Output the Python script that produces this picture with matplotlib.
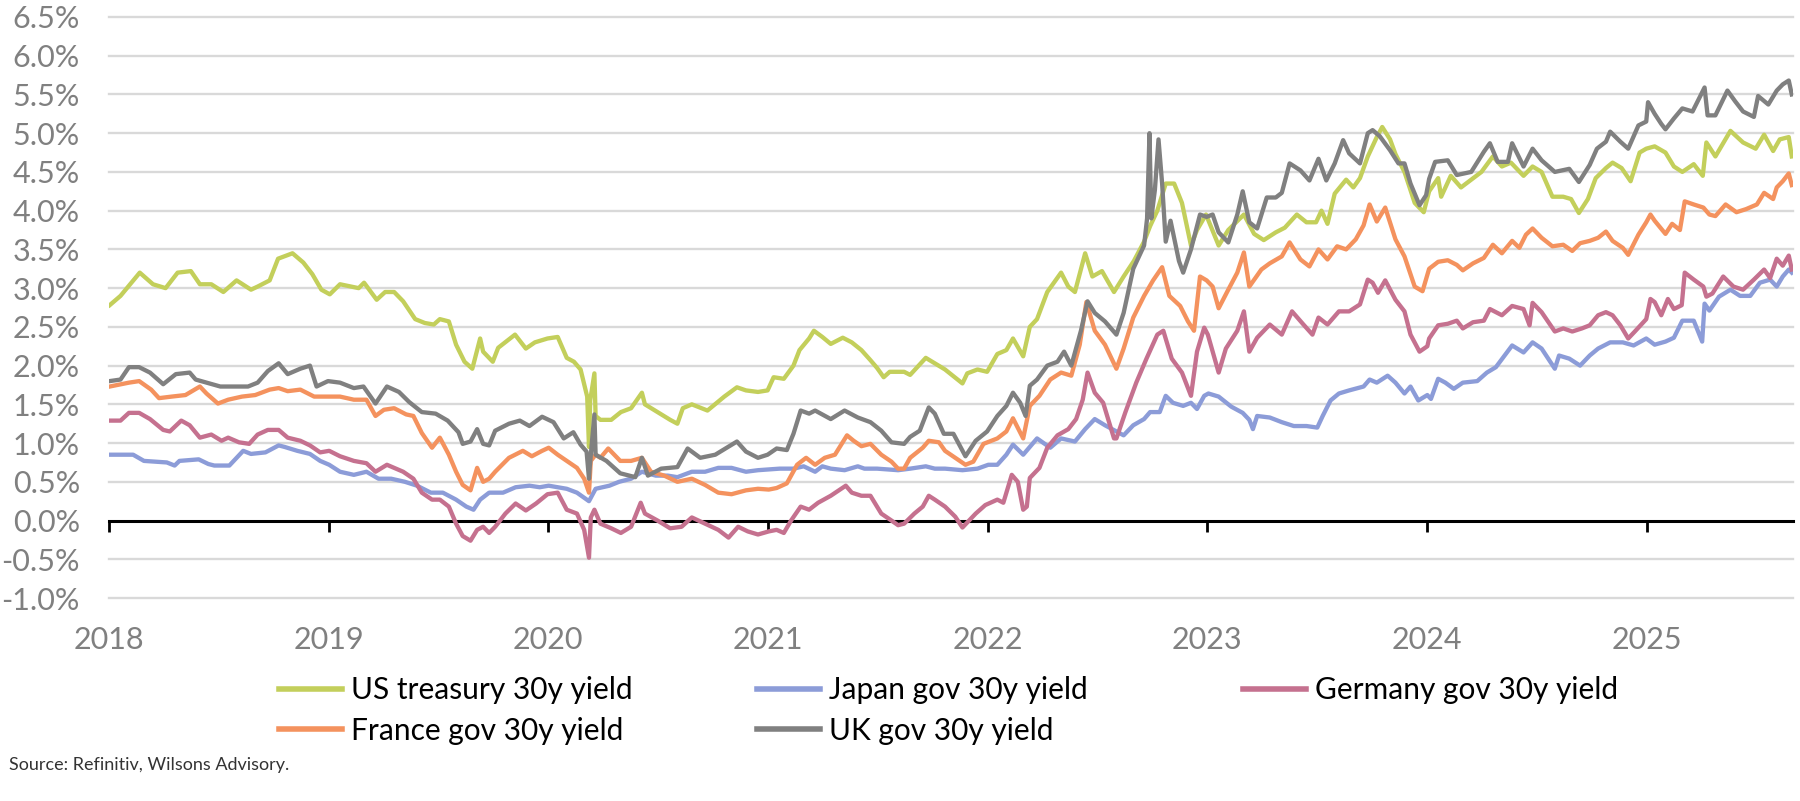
import matplotlib
matplotlib.use("Agg")
import matplotlib.pyplot as plt
import matplotlib.dates as mdates
from matplotlib.lines import Line2D
from matplotlib.ticker import FuncFormatter
import numpy as np
import pandas as pd

plt.rcParams['font.family'] = ['Lato', 'DejaVu Sans']

# ---------------- data ----------------
us_dates = ["2018-01-02","2018-01-20","2018-02-05","2018-02-21","2018-03-15","2018-04-05","2018-04-25","2018-05-17",
            "2018-06-01","2018-06-20","2018-07-10","2018-08-01","2018-08-25","2018-09-05","2018-09-25","2018-10-09",
            "2018-11-02","2018-11-20","2018-12-05","2018-12-20","2019-01-03","2019-01-20","2019-02-20","2019-03-01",
            "2019-03-22","2019-04-05","2019-04-20","2019-05-05","2019-05-25","2019-06-10","2019-06-25","2019-07-05",
            "2019-07-20","2019-08-01","2019-08-15","2019-08-28","2019-09-10","2019-09-15","2019-10-01","2019-10-10",
            "2019-11-07","2019-11-25","2019-12-10","2019-12-31","2020-01-17","2020-02-01","2020-02-13","2020-02-24",
            "2020-03-06","2020-03-09","2020-03-11","2020-03-18","2020-03-20","2020-03-28","2020-04-15","2020-05-01",
            "2020-05-18","2020-06-05","2020-06-10","2020-07-01","2020-07-22","2020-08-03","2020-08-12","2020-08-27",
            "2020-09-22","2020-10-20","2020-11-10","2020-11-25","2020-12-15","2020-12-31","2021-01-10","2021-01-27",
            "2021-02-12","2021-02-22","2021-03-10","2021-03-18","2021-04-01","2021-04-15","2021-05-05","2021-05-20",
            "2021-06-05","2021-06-20","2021-07-01","2021-07-12","2021-07-22","2021-08-15","2021-08-25","2021-09-20",
            "2021-10-05","2021-10-22","2021-11-20","2021-11-28","2021-12-15","2021-12-31","2022-01-17","2022-02-01",
            "2022-02-12","2022-03-01","2022-03-12","2022-03-24","2022-04-10","2022-05-03","2022-05-15","2022-05-26",
            "2022-06-12","2022-06-24","2022-07-10","2022-07-30","2022-08-15","2022-09-01","2022-09-18","2022-09-28",
            "2022-10-10","2022-10-24","2022-11-07","2022-11-20","2022-12-05","2022-12-15","2022-12-30","2023-01-20",
            "2023-02-05","2023-03-03","2023-03-20","2023-04-05","2023-04-25","2023-05-10","2023-05-30","2023-06-15",
            "2023-07-01","2023-07-10","2023-07-20","2023-08-01","2023-08-20","2023-09-01","2023-09-12","2023-09-25",
            "2023-10-10","2023-10-19","2023-11-01","2023-11-10","2023-11-25","2023-12-12","2023-12-27","2024-01-05",
            "2024-01-20","2024-01-25","2024-02-10","2024-02-27","2024-03-15","2024-04-01","2024-04-20","2024-05-05",
            "2024-05-20","2024-06-10","2024-06-25","2024-07-10","2024-07-28","2024-08-15","2024-08-28","2024-09-10",
            "2024-09-25","2024-10-08","2024-10-25","2024-11-05","2024-11-20","2024-12-05","2024-12-20","2024-12-31",
            "2025-01-14","2025-02-01","2025-02-15","2025-03-01","2025-03-20","2025-04-04","2025-04-10","2025-04-25",
            "2025-05-20","2025-06-10","2025-07-01","2025-07-15","2025-07-30","2025-08-10","2025-08-25","2025-08-30"]
us_vals = [2.78,2.90,3.05,3.20,3.05,3.00,3.20,3.22,
           3.05,3.05,2.95,3.10,2.98,3.02,3.10,3.38,
           3.45,3.33,3.18,2.98,2.92,3.05,3.00,3.07,
           2.85,2.95,2.95,2.83,2.60,2.55,2.53,2.60,
           2.57,2.27,2.05,1.96,2.35,2.18,2.05,2.23,
           2.40,2.22,2.30,2.35,2.37,2.10,2.05,1.95,
           1.60,0.95,1.55,1.90,1.35,1.30,1.30,1.40,
           1.45,1.65,1.50,1.40,1.30,1.25,1.45,1.50,
           1.42,1.60,1.72,1.68,1.66,1.68,1.85,1.83,
           2.00,2.20,2.35,2.45,2.37,2.28,2.36,2.30,
           2.20,2.07,1.97,1.85,1.92,1.92,1.88,2.10,
           2.03,1.95,1.77,1.90,1.95,1.92,2.15,2.20,
           2.35,2.12,2.50,2.60,2.95,3.20,3.02,2.95,
           3.45,3.15,3.22,2.95,3.15,3.35,3.60,3.80,
           4.00,4.35,4.35,4.10,3.55,3.75,3.95,3.55,
           3.75,3.95,3.70,3.62,3.72,3.78,3.95,3.85,
           3.85,4.00,3.83,4.22,4.40,4.30,4.42,4.70,
           4.95,5.08,4.92,4.73,4.50,4.10,3.98,4.25,
           4.42,4.18,4.45,4.30,4.40,4.50,4.70,4.57,
           4.62,4.45,4.57,4.50,4.18,4.18,4.15,3.97,
           4.15,4.42,4.55,4.62,4.55,4.38,4.75,4.80,
           4.83,4.75,4.57,4.50,4.60,4.45,4.88,4.70,
           5.03,4.88,4.80,4.98,4.77,4.92,4.95,4.70]

jp_dates = ["2018-01-03","2018-02-10","2018-02-28","2018-04-07","2018-04-20","2018-04-28","2018-05-30","2018-06-15",
            "2018-06-25","2018-07-20","2018-08-01","2018-08-12","2018-08-25","2018-09-18","2018-10-10","2018-10-20",
            "2018-11-10","2018-12-01","2018-12-18","2019-01-02","2019-01-20","2019-02-12","2019-03-05","2019-03-25",
            "2019-04-15","2019-05-08","2019-05-28","2019-06-20","2019-07-10","2019-08-01","2019-08-18","2019-08-30",
            "2019-09-10","2019-09-25","2019-10-18","2019-11-08","2019-12-01","2019-12-18","2020-01-02","2020-01-17",
            "2020-02-01","2020-02-18","2020-03-09","2020-03-20","2020-04-12","2020-04-28","2020-05-18","2020-06-05",
            "2020-06-28","2020-07-18","2020-08-03","2020-08-27","2020-09-18","2020-10-10","2020-11-01","2020-11-25",
            "2020-12-15","2021-01-02","2021-01-20","2021-02-12","2021-03-01","2021-03-20","2021-04-01","2021-04-15",
            "2021-05-08","2021-05-30","2021-06-10","2021-07-01","2021-08-05","2021-08-25","2021-09-20","2021-10-05",
            "2021-10-22","2021-11-20","2021-12-15","2022-01-02","2022-01-17","2022-02-01","2022-02-12","2022-03-01",
            "2022-03-24","2022-04-15","2022-05-03","2022-05-26","2022-06-12","2022-06-28","2022-07-15","2022-08-03",
            "2022-08-15","2022-08-31","2022-09-18","2022-09-28","2022-10-14","2022-10-24","2022-11-05","2022-11-22",
            "2022-12-05","2022-12-15","2022-12-27","2023-01-03","2023-01-20","2023-02-10","2023-03-01","2023-03-12",
            "2023-03-18","2023-03-25","2023-04-15","2023-05-05","2023-05-25","2023-06-15","2023-07-03","2023-07-12",
            "2023-07-25","2023-08-08","2023-08-25","2023-09-18","2023-09-28","2023-10-10","2023-10-28","2023-11-10",
            "2023-11-25","2023-12-05","2023-12-18","2024-01-02","2024-01-08","2024-01-20","2024-02-01","2024-02-15",
            "2024-03-01","2024-03-25","2024-04-10","2024-04-25","2024-05-22","2024-06-10","2024-06-25","2024-07-10",
            "2024-08-01","2024-08-08","2024-08-25","2024-09-12","2024-09-28","2024-10-12","2024-11-01","2024-11-22",
            "2024-12-10","2024-12-31","2025-01-14","2025-02-01","2025-02-15","2025-03-01","2025-03-20","2025-04-03",
            "2025-04-07","2025-04-15","2025-05-01","2025-05-20","2025-06-05","2025-06-22","2025-07-08","2025-07-25",
            "2025-08-05","2025-08-15","2025-08-25","2025-08-30"]
jp_vals = [0.85,0.85,0.77,0.75,0.71,0.77,0.79,0.73,
           0.71,0.71,0.81,0.90,0.86,0.88,0.97,0.95,
           0.90,0.86,0.77,0.72,0.63,0.59,0.63,0.54,
           0.54,0.50,0.45,0.36,0.36,0.27,0.18,0.14,
           0.27,0.36,0.36,0.43,0.45,0.43,0.45,0.43,
           0.41,0.36,0.25,0.41,0.45,0.50,0.54,0.63,
           0.58,0.58,0.56,0.63,0.63,0.68,0.68,0.63,
           0.65,0.66,0.67,0.67,0.70,0.63,0.70,0.67,
           0.65,0.70,0.67,0.67,0.65,0.67,0.70,0.67,
           0.67,0.65,0.67,0.72,0.72,0.85,0.98,0.85,
           1.06,0.94,1.06,1.02,1.18,1.31,1.23,1.15,
           1.10,1.23,1.31,1.40,1.40,1.61,1.52,1.48,
           1.52,1.44,1.61,1.64,1.60,1.47,1.39,1.30,
           1.18,1.35,1.33,1.27,1.22,1.22,1.20,1.35,
           1.55,1.64,1.68,1.73,1.82,1.78,1.87,1.78,
           1.64,1.73,1.55,1.62,1.57,1.83,1.78,1.70,
           1.78,1.80,1.91,1.98,2.26,2.17,2.30,2.22,
           1.96,2.13,2.09,2.00,2.13,2.22,2.30,2.30,
           2.26,2.35,2.27,2.31,2.36,2.58,2.58,2.31,
           2.80,2.71,2.89,2.98,2.90,2.90,3.07,3.11,
           3.02,3.15,3.24,3.20]

de_dates = ["2018-01-02","2018-01-20","2018-02-03","2018-02-20","2018-03-10","2018-04-01","2018-04-12","2018-05-01",
            "2018-05-15","2018-06-01","2018-06-20","2018-07-07","2018-07-18","2018-08-05","2018-08-22","2018-09-05",
            "2018-09-22","2018-10-10","2018-10-25","2018-11-15","2018-12-01","2018-12-18","2019-01-02","2019-01-20",
            "2019-02-12","2019-03-05","2019-03-20","2019-04-08","2019-04-20","2019-05-05","2019-05-22","2019-06-05",
            "2019-06-22","2019-07-05","2019-07-20","2019-08-01","2019-08-12","2019-08-25","2019-09-05","2019-09-15",
            "2019-09-25","2019-10-05","2019-10-22","2019-11-08","2019-11-25","2019-12-12","2019-12-31","2020-01-17",
            "2020-02-01","2020-02-18","2020-03-01","2020-03-09","2020-03-12","2020-03-18","2020-03-28","2020-04-15",
            "2020-05-01","2020-05-18","2020-06-03","2020-06-10","2020-07-01","2020-07-22","2020-08-10","2020-08-27",
            "2020-09-18","2020-10-10","2020-10-27","2020-11-12","2020-11-28","2020-12-15","2021-01-02","2021-01-15",
            "2021-01-27","2021-02-08","2021-02-24","2021-03-10","2021-03-25","2021-04-15","2021-05-10","2021-05-20",
            "2021-06-05","2021-06-20","2021-07-08","2021-07-25","2021-08-05","2021-08-15","2021-09-01","2021-09-15",
            "2021-09-25","2021-10-05","2021-10-22","2021-11-08","2021-11-20","2021-12-01","2021-12-12","2021-12-28",
            "2022-01-17","2022-01-27","2022-02-10","2022-02-20","2022-03-01","2022-03-07","2022-03-12","2022-03-28",
            "2022-04-10","2022-04-27","2022-05-15","2022-05-28","2022-06-08","2022-06-16","2022-06-28","2022-07-12",
            "2022-07-30","2022-08-03","2022-08-18","2022-09-05","2022-09-22","2022-10-10","2022-10-20","2022-11-03",
            "2022-11-20","2022-12-05","2022-12-15","2022-12-27","2023-01-02","2023-01-10","2023-01-20","2023-02-01",
            "2023-02-20","2023-03-03","2023-03-12","2023-03-25","2023-04-15","2023-05-05","2023-05-22","2023-06-10",
            "2023-06-25","2023-07-05","2023-07-20","2023-08-08","2023-08-25","2023-09-12","2023-09-25","2023-10-03",
            "2023-10-12","2023-10-24","2023-11-10","2023-11-25","2023-12-05","2023-12-20","2024-01-02","2024-01-05",
            "2024-01-20","2024-02-05","2024-02-20","2024-03-01","2024-03-18","2024-04-05","2024-04-15","2024-05-05",
            "2024-05-22","2024-06-10","2024-06-20","2024-06-25","2024-07-10","2024-08-01","2024-08-15","2024-08-30",
            "2024-09-15","2024-09-28","2024-10-12","2024-10-25","2024-11-05","2024-11-18","2024-12-01","2024-12-12",
            "2024-12-31","2025-01-07","2025-01-14","2025-01-25","2025-02-05","2025-02-15","2025-02-28","2025-03-05",
            "2025-03-20","2025-04-05","2025-04-10","2025-04-20","2025-05-08","2025-05-25","2025-06-10","2025-06-28",
            "2025-07-15","2025-07-25","2025-08-05","2025-08-15","2025-08-25","2025-08-30"]
de_vals = [1.29,1.29,1.39,1.39,1.31,1.17,1.15,1.29,
           1.23,1.07,1.11,1.03,1.07,1.01,0.99,1.11,
           1.17,1.17,1.07,1.03,0.97,0.88,0.90,0.83,
           0.77,0.74,0.63,0.72,0.68,0.63,0.54,0.36,
           0.27,0.27,0.18,-0.04,-0.20,-0.26,-0.12,-0.08,
           -0.16,-0.08,0.09,0.22,0.13,0.22,0.34,0.36,
           0.14,0.09,-0.12,-0.48,0.04,0.14,-0.04,-0.10,
           -0.16,-0.08,0.23,0.09,0.00,-0.10,-0.08,0.04,
           -0.04,-0.12,-0.22,-0.08,-0.14,-0.18,-0.14,-0.12,
           -0.16,0.00,0.18,0.14,0.23,0.32,0.45,0.36,
           0.32,0.32,0.09,0.00,-0.06,-0.04,0.09,0.18,
           0.32,0.27,0.18,0.05,-0.09,0.00,0.09,0.20,
           0.27,0.23,0.59,0.50,0.14,0.18,0.55,0.68,
           0.94,1.10,1.18,1.31,1.56,1.91,1.65,1.52,
           1.06,1.06,1.40,1.78,2.09,2.40,2.45,2.09,
           1.91,1.61,2.18,2.49,2.40,2.18,1.91,2.22,
           2.45,2.70,2.18,2.36,2.53,2.40,2.70,2.53,
           2.40,2.62,2.53,2.70,2.70,2.79,3.11,3.07,
           2.94,3.10,2.85,2.70,2.40,2.18,2.25,2.35,
           2.52,2.54,2.58,2.48,2.56,2.58,2.73,2.65,
           2.77,2.73,2.52,2.81,2.69,2.44,2.48,2.44,
           2.48,2.52,2.65,2.69,2.65,2.52,2.35,2.44,
           2.60,2.86,2.82,2.65,2.86,2.73,2.78,3.20,
           3.11,3.02,2.89,2.93,3.15,3.02,2.98,3.11,
           3.24,3.13,3.38,3.29,3.42,3.24]

fr_dates = ["2018-01-02","2018-02-03","2018-02-20","2018-03-12","2018-03-25","2018-04-15","2018-05-08","2018-06-01",
            "2018-06-12","2018-07-01","2018-07-18","2018-08-10","2018-09-01","2018-09-25","2018-10-10","2018-10-25",
            "2018-11-15","2018-12-08","2018-12-31","2019-01-20","2019-02-12","2019-03-05","2019-03-20","2019-04-03",
            "2019-04-20","2019-05-10","2019-05-22","2019-06-05","2019-06-22","2019-07-05","2019-07-20","2019-08-01",
            "2019-08-12","2019-08-25","2019-09-05","2019-09-15","2019-09-25","2019-10-05","2019-10-28","2019-11-20",
            "2019-12-05","2019-12-22","2020-01-02","2020-01-17","2020-02-01","2020-02-18","2020-03-01","2020-03-09",
            "2020-03-12","2020-03-20","2020-03-28","2020-04-10","2020-04-30","2020-05-18","2020-06-05","2020-06-20",
            "2020-07-12","2020-08-03","2020-08-27","2020-09-18","2020-10-10","2020-11-01","2020-11-25","2020-12-15",
            "2021-01-02","2021-01-15","2021-02-01","2021-02-18","2021-03-05","2021-03-20","2021-04-05","2021-04-22",
            "2021-05-12","2021-05-23","2021-06-05","2021-06-20","2021-07-08","2021-07-25","2021-08-05","2021-08-15",
            "2021-08-25","2021-09-15","2021-09-25","2021-10-12","2021-10-22","2021-11-08","2021-11-25","2021-12-08",
            "2021-12-25","2022-01-17","2022-02-01","2022-02-12","2022-03-01","2022-03-12","2022-03-28","2022-04-15",
            "2022-05-03","2022-05-20","2022-06-03","2022-06-14","2022-06-28","2022-07-15","2022-08-03","2022-08-15",
            "2022-08-31","2022-09-18","2022-10-03","2022-10-18","2022-10-30","2022-11-17","2022-11-30","2022-12-10",
            "2022-12-20","2022-12-31","2023-01-10","2023-01-20","2023-02-05","2023-02-20","2023-03-03","2023-03-12",
            "2023-04-01","2023-04-15","2023-05-05","2023-05-18","2023-06-05","2023-06-20","2023-07-05","2023-07-20",
            "2023-08-05","2023-08-20","2023-09-05","2023-09-18","2023-09-28","2023-10-10","2023-10-24","2023-11-10",
            "2023-11-25","2023-12-12","2023-12-25","2024-01-05","2024-01-20","2024-02-05","2024-02-20","2024-03-01",
            "2024-03-18","2024-04-05","2024-04-20","2024-05-05","2024-05-22","2024-06-03","2024-06-14","2024-06-25",
            "2024-07-10","2024-07-28","2024-08-15","2024-08-30","2024-09-12","2024-09-28","2024-10-12","2024-10-25",
            "2024-11-05","2024-11-22","2024-12-01","2024-12-18","2024-12-31","2025-01-07","2025-01-14","2025-02-01",
            "2025-02-12","2025-02-25","2025-03-05","2025-03-20","2025-04-05","2025-04-15","2025-04-25","2025-05-12",
            "2025-05-30","2025-06-15","2025-07-03","2025-07-15","2025-07-30","2025-08-05","2025-08-15","2025-08-25",
            "2025-08-30"]
fr_vals = [1.73,1.78,1.80,1.69,1.58,1.60,1.62,1.73,
           1.64,1.51,1.56,1.60,1.62,1.69,1.71,1.67,
           1.69,1.60,1.60,1.60,1.56,1.56,1.35,1.43,
           1.45,1.37,1.35,1.13,0.94,1.07,0.85,0.63,
           0.46,0.39,0.68,0.50,0.54,0.63,0.81,0.90,
           0.83,0.90,0.94,0.85,0.77,0.68,0.54,0.36,
           0.77,0.85,0.81,0.93,0.77,0.77,0.81,0.63,
           0.58,0.50,0.54,0.46,0.36,0.34,0.39,0.41,
           0.40,0.42,0.48,0.72,0.81,0.72,0.81,0.85,
           1.10,1.03,0.96,0.99,0.85,0.76,0.67,0.67,
           0.81,0.94,1.03,1.01,0.90,0.81,0.72,0.76,
           0.99,1.06,1.15,1.32,1.06,1.48,1.61,1.82,
           1.91,1.87,2.27,2.82,2.45,2.27,1.96,2.22,
           2.62,2.90,3.10,3.27,2.90,2.77,2.57,2.45,
           3.15,3.10,3.02,2.74,2.98,3.20,3.46,3.02,
           3.24,3.32,3.41,3.59,3.37,3.28,3.50,3.37,
           3.54,3.50,3.63,3.81,4.08,3.86,4.04,3.63,
           3.41,3.02,2.96,3.25,3.34,3.36,3.30,3.23,
           3.32,3.39,3.56,3.45,3.61,3.52,3.69,3.77,
           3.65,3.54,3.56,3.48,3.58,3.61,3.65,3.73,
           3.61,3.52,3.43,3.69,3.85,3.95,3.87,3.70,
           3.83,3.75,4.12,4.08,4.04,3.95,3.93,4.08,
           3.98,4.02,4.08,4.23,4.15,4.30,4.38,4.48,
           4.33]

uk_dates = ["2018-01-02","2018-01-20","2018-02-03","2018-02-20","2018-03-10","2018-04-01","2018-04-22","2018-05-15",
            "2018-05-25","2018-06-12","2018-07-05","2018-07-28","2018-08-20","2018-09-05","2018-09-22","2018-10-10",
            "2018-10-25","2018-11-15","2018-12-01","2018-12-12","2018-12-31","2019-01-20","2019-02-12","2019-02-28",
            "2019-03-20","2019-04-08","2019-04-28","2019-05-15","2019-06-05","2019-06-28","2019-07-18","2019-08-05",
            "2019-08-12","2019-08-25","2019-09-05","2019-09-15","2019-09-25","2019-10-05","2019-10-28","2019-11-15",
            "2019-12-01","2019-12-22","2020-01-02","2020-01-10","2020-01-27","2020-02-12","2020-02-24","2020-03-05",
            "2020-03-09","2020-03-10","2020-03-18","2020-03-20","2020-04-07","2020-04-30","2020-05-25","2020-06-05",
            "2020-06-15","2020-07-07","2020-08-03","2020-08-20","2020-09-10","2020-10-05","2020-11-10","2020-11-25",
            "2020-12-15","2020-12-31","2021-01-15","2021-02-01","2021-02-12","2021-02-24","2021-03-10","2021-03-20",
            "2021-04-15","2021-05-08","2021-05-30","2021-06-20","2021-07-08","2021-07-25","2021-08-15","2021-08-25",
            "2021-09-10","2021-09-25","2021-10-05","2021-10-20","2021-11-05","2021-11-25","2021-12-12","2021-12-31",
            "2022-01-17","2022-02-01","2022-02-12","2022-02-24","2022-03-05","2022-03-12","2022-03-24","2022-04-10",
            "2022-04-27","2022-05-08","2022-05-20","2022-06-05","2022-06-16","2022-06-28","2022-07-15","2022-08-03",
            "2022-08-15","2022-08-31","2022-09-18","2022-09-23","2022-09-27","2022-09-30","2022-10-06","2022-10-12",
            "2022-10-18","2022-10-24","2022-11-01","2022-11-15","2022-11-22","2022-12-05","2022-12-20","2022-12-31",
            "2023-01-10","2023-01-20","2023-02-05","2023-02-20","2023-03-01","2023-03-12","2023-03-25","2023-04-10",
            "2023-04-25","2023-05-05","2023-05-18","2023-06-05","2023-06-20","2023-07-05","2023-07-18","2023-08-01",
            "2023-08-15","2023-08-25","2023-09-12","2023-09-25","2023-10-03","2023-10-15","2023-11-01","2023-11-15",
            "2023-11-25","2023-12-05","2023-12-20","2023-12-31","2024-01-05","2024-01-15","2024-02-05","2024-02-20",
            "2024-03-15","2024-04-05","2024-04-15","2024-04-28","2024-05-15","2024-05-22","2024-06-10","2024-06-25",
            "2024-07-10","2024-08-01","2024-08-25","2024-09-10","2024-09-28","2024-10-10","2024-10-25","2024-11-01",
            "2024-11-18","2024-12-01","2024-12-18","2024-12-31","2025-01-03","2025-01-14","2025-01-25","2025-02-01",
            "2025-02-15","2025-03-01","2025-03-18","2025-04-07","2025-04-12","2025-04-25","2025-05-15","2025-05-28",
            "2025-06-10","2025-06-28","2025-07-05","2025-07-22","2025-08-05","2025-08-15","2025-08-25","2025-08-30"]
uk_vals = [1.80,1.82,1.98,1.98,1.91,1.76,1.89,1.91,
           1.82,1.78,1.73,1.73,1.73,1.78,1.93,2.03,
           1.89,1.96,2.00,1.73,1.80,1.78,1.71,1.73,
           1.51,1.73,1.66,1.53,1.40,1.38,1.29,1.14,
           0.99,1.02,1.18,0.99,0.97,1.16,1.25,1.29,
           1.22,1.34,1.30,1.27,1.06,1.14,0.98,0.89,
           0.54,0.67,1.37,0.85,0.77,0.61,0.56,0.81,
           0.58,0.67,0.69,0.93,0.81,0.85,1.02,0.89,
           0.81,0.85,0.93,0.91,1.12,1.42,1.38,1.42,
           1.31,1.42,1.33,1.27,1.16,1.01,0.99,1.08,
           1.16,1.46,1.38,1.12,1.12,0.83,1.03,1.15,
           1.35,1.48,1.65,1.52,1.35,1.74,1.82,2.00,
           2.05,2.18,2.00,2.45,2.83,2.68,2.57,2.40,
           2.68,3.25,3.55,3.90,5.00,3.90,4.27,4.92,
           4.35,3.60,3.87,3.35,3.20,3.50,3.95,3.92,
           3.95,3.72,3.59,3.95,4.25,3.85,3.77,4.17,
           4.17,4.23,4.61,4.52,4.39,4.67,4.39,4.61,
           4.91,4.74,4.61,5.00,5.04,4.96,4.78,4.61,
           4.61,4.35,4.07,4.20,4.41,4.63,4.65,4.46,
           4.50,4.76,4.87,4.63,4.63,4.87,4.57,4.80,
           4.65,4.50,4.54,4.37,4.59,4.80,4.89,5.02,
           4.89,4.80,5.10,5.15,5.40,5.25,5.12,5.05,
           5.19,5.32,5.28,5.59,5.23,5.23,5.55,5.41,
           5.28,5.21,5.48,5.37,5.55,5.63,5.68,5.50]

series_names = ["US treasury 30y yield", "Japan gov 30y yield", "Germany gov 30y yield",
                "France gov 30y yield", "UK gov 30y yield"]
series_dates = [us_dates, jp_dates, de_dates, fr_dates, uk_dates]
series_vals = [us_vals, jp_vals, de_vals, fr_vals, uk_vals]
series_colors = ["#C3CF5B", "#8C9CD8", "#C5718F", "#F4925E", "#808080"]

year_ticks = ["2018", "2019", "2020", "2021", "2022", "2023", "2024", "2025"]
y_ticks = [-1.0, -0.5, 0.0, 0.5, 1.0, 1.5, 2.0, 2.5, 3.0, 3.5, 4.0, 4.5, 5.0, 5.5, 6.0, 6.5]

# ---------------- figure ----------------
fig = plt.figure(figsize=(18, 8.01), dpi=100)
ax = fig.add_axes([0.0606, 0.2534, 0.9355, 0.7254])

for v in y_ticks:
    if v != 0:
        ax.axhline(v, color="#D9D9D9", lw=1.7, zorder=0, clip_on=False)

for name, d, v, c in zip(series_names, series_dates, series_vals, series_colors):
    ax.plot(pd.to_datetime(d), v, color=c, lw=3.1, label=name,
            solid_joinstyle="round", zorder=3)

ax.set_ylim(-1.0, 6.5)
ax.set_xlim(pd.Timestamp("2018-01-01"), pd.Timestamp("2025-09-01"))
ax.set_yticks(y_ticks)
ax.yaxis.set_major_formatter(FuncFormatter(lambda v, p: f"{v:.1f}%"))
ax.tick_params(axis="y", length=0, pad=21, labelsize=22, labelcolor="#808080")

for s in ["left", "right", "top"]:
    ax.spines[s].set_visible(False)
ax.spines["bottom"].set_position(("data", 0))
ax.spines["bottom"].set_color("black")
ax.spines["bottom"].set_linewidth(2.2)
ax.spines["bottom"].set_zorder(2)
yt = pd.to_datetime(year_ticks)
ax.set_xticks(yt)
ax.tick_params(axis="x", direction="out", length=8, width=2, color="black", labelbottom=False)

sec = ax.secondary_xaxis("bottom")
sec.set_xticks(yt)
sec.set_xticklabels(year_ticks)
sec.tick_params(length=0, pad=20, labelsize=22, labelcolor="#808080")
sec.spines["bottom"].set_visible(False)

# ---------------- legend (3 columns, row-major like the original) ----------------
leg_kw = dict(loc="upper left", frameon=False, fontsize=21.5, handlelength=2.1,
              handletextpad=0.3, labelspacing=0.42, borderpad=0, borderaxespad=0)
handles = [Line2D([], [], color=c, lw=4) for c in series_colors]
cols = [([0, 3], 279), ([1, 4], 757), ([2], 1243)]
for idx, xpx in cols:
    fig.legend([handles[i] for i in idx], [series_names[i] for i in idx],
               bbox_to_anchor=(xpx / 1800, 1 - 676 / 801), **leg_kw)

fig.text(9 / 1800, 1 - 765 / 801, "Source: Refinitiv, Wilsons Advisory.", fontsize=13,
         color="#333333", va="center", ha="left")

fig.savefig("out.png", dpi=100)
